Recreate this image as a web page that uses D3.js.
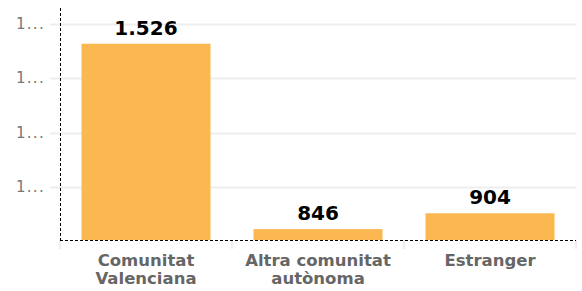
<!DOCTYPE html>
<html>
<head>
<meta charset="utf-8">
<script src="https://cdn.jsdelivr.net/npm/d3@7"></script>
<style>
  body { margin: 0; background: #fff; }
  svg { display: block; font-family: "DejaVu Sans", Verdana, sans-serif; }
</style>
</head>
<body>
<div id="chart"></div>
<script>
// Data
const categories = [['Comunitat', 'Valenciana'], ['Altra comunitat', 'autònoma'], ['Estranger']];
const values = [1526, 846, 904];
const valueLabels = ['1.526', '846', '904'];
const tickValues = [1000, 1200, 1400, 1600];
const tickLabels = ['1.000', '1.200', '1.400', '1.600'];

const width = 582, height = 291;
const margin = { top: 8, right: 6, bottom: 51, left: 60 };

const svg = d3.select('#chart')
  .append('svg')
  .attr('width', width)
  .attr('height', height);

const xScale = d3.scaleBand()
  .domain(d3.range(values.length))
  .range([margin.left, width - margin.right])
  .paddingInner(0.25)
  .paddingOuter(0.125);

const yScale = d3.scaleLinear()
  .domain([806, 1657])
  .range([height - margin.bottom, margin.top]);

const base = yScale.range()[0];

// gridlines
svg.append('g')
  .selectAll('line')
  .data(tickValues)
  .enter()
  .append('line')
  .attr('x1', 50)
  .attr('x2', width - margin.right)
  .attr('y1', d => Math.round(yScale(d)) + 0.5)
  .attr('y2', d => Math.round(yScale(d)) + 0.5)
  .attr('stroke', '#eeeeee')
  .attr('stroke-width', 2);

// y tick labels (truncated like the original)
svg.append('g')
  .selectAll('text')
  .data(tickValues)
  .enter()
  .append('text')
  .text((d, i) => tickLabels[i].charAt(0) + '...')
  .attr('x', 45)
  .attr('y', d => yScale(d) + 5)
  .attr('text-anchor', 'end')
  .attr('font-size', 15)
  .attr('letter-spacing', 1.3)
  .attr('fill', '#777');

// x category dividers
const step = xScale.step();
const edges = d3.range(values.length + 1).map(i => margin.left + i * step);
svg.append('g')
  .selectAll('line')
  .data(edges)
  .enter()
  .append('line')
  .attr('x1', d => d)
  .attr('x2', d => d)
  .attr('y1', base)
  .attr('y2', base + 9)
  .attr('stroke', '#eee')
  .attr('stroke-width', 2);

// bars
svg.selectAll('rect.bar')
  .data(values)
  .enter()
  .append('rect')
  .attr('class', 'bar')
  .attr('x', (d, i) => xScale(i))
  .attr('y', d => yScale(d))
  .attr('width', xScale.bandwidth())
  .attr('height', d => base - yScale(d))
  .attr('fill', '#fbb851');

// value labels
svg.selectAll('text.val')
  .data(values)
  .enter()
  .append('text')
  .attr('class', 'val')
  .text((d, i) => valueLabels[i])
  .attr('x', (d, i) => xScale(i) + xScale.bandwidth() / 2)
  .attr('y', d => yScale(d) - 9)
  .attr('text-anchor', 'middle')
  .attr('font-size', 20)
  .attr('font-weight', 'bold')
  .attr('fill', '#000');

// axes (dashed)
svg.append('line')
  .attr('x1', margin.left + 0.5).attr('x2', margin.left + 0.5)
  .attr('y1', margin.top).attr('y2', base)
  .attr('stroke', '#000')
  .attr('stroke-dasharray', '3,2');

svg.append('line')
  .attr('x1', margin.left).attr('x2', width - margin.right)
  .attr('y1', base + 0.5).attr('y2', base + 0.5)
  .attr('stroke', '#000')
  .attr('stroke-dasharray', '3,2');

// category labels, one text per line
const catGroups = svg.append('g')
  .selectAll('g')
  .data(categories)
  .enter()
  .append('g')
  .attr('transform', (d, i) => `translate(${xScale(i) + xScale.bandwidth() / 2},0)`);

catGroups.selectAll('text')
  .data(d => d)
  .enter()
  .append('text')
  .attr('x', 0)
  .attr('y', (d, i) => 266 + i * 18)
  .attr('text-anchor', 'middle')
  .attr('font-size', 16.5)
  .attr('font-weight', 'bold')
  .attr('fill', '#666')
  .text(d => d);
</script>
</body>
</html>
